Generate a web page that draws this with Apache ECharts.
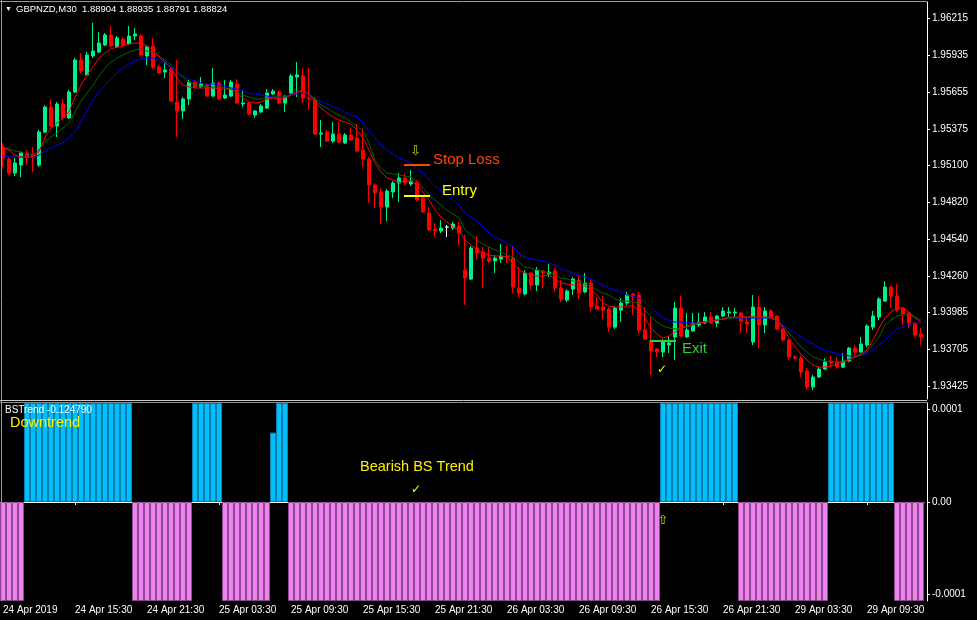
<!DOCTYPE html>
<html><head><meta charset="utf-8">
<script src="https://cdn.jsdelivr.net/npm/echarts@6/dist/echarts.min.js"></script>
<style>html,body{margin:0;padding:0;background:#000;overflow:hidden}#c{width:977px;height:620px}</style>
</head><body><div id="c"></div>
<script>
// ---------------- DATA ----------------
const openP=[1.95237,1.95146,1.95040,1.95100,1.95191,1.95184,1.95100,1.95350,1.95540,1.95396,
1.95563,1.95457,1.95654,1.95896,1.95783,1.95927,1.95957,1.96010,1.96086,1.95995,
1.96055,1.96018,1.96078,1.96078,1.95927,1.96002,1.95843,1.95805,1.95828,1.95578,
1.95510,1.95601,1.95729,1.95692,1.95707,1.95623,1.95722,1.95608,1.95623,1.95714,
1.95563,1.95570,1.95479,1.95502,1.95532,1.95639,1.95654,1.95570,1.95646,1.95767,
1.95775,1.95608,1.95601,1.95335,1.95350,1.95282,1.95335,1.95267,1.95328,1.95305,
1.95214,1.95146,1.94949,1.94896,1.94782,1.94896,1.94964,1.95002,1.94956,1.94971,
1.94850,1.94737,1.94615,1.94600,1.94630,1.94623,1.94638,1.94304,1.94236,1.94471,
1.94441,1.94395,1.94373,1.94388,1.94411,1.94395,1.94168,1.94123,1.94282,1.94191,
1.94297,1.94274,1.94297,1.94168,1.94077,1.94160,1.94229,1.94138,1.94206,1.94032,
1.94024,1.94009,1.93872,1.94001,1.94054,1.94123,1.94115,1.93850,1.93766,1.93706,
1.93683,1.93736,1.93797,1.94016,1.93797,1.93842,1.93888,1.93903,1.93948,1.93903,
1.93956,1.93979,1.93979,1.93979,1.93910,1.93759,1.94024,1.93888,1.93994,1.93956,
1.93857,1.93774,1.93645,1.93637,1.93539,1.93418,1.93493,1.93554,1.93615,1.93607,
1.93569,1.93615,1.93713,1.93683,1.93736,1.93872,1.93948,1.94069,1.94176,1.94107,
1.94016,1.93979,1.93903,1.93819];
const highP=[1.95267,1.95161,1.95153,1.95206,1.95214,1.95237,1.95366,1.95555,1.95601,1.95578,
1.95601,1.95669,1.95911,1.95949,1.95957,1.96177,1.96108,1.96101,1.96154,1.96078,
1.96071,1.96154,1.96139,1.96093,1.96010,1.96063,1.95858,1.95881,1.95843,1.95896,
1.95616,1.95745,1.95745,1.95767,1.95722,1.95836,1.95737,1.95745,1.95745,1.95752,
1.95669,1.95585,1.95517,1.95563,1.95676,1.95676,1.95669,1.95631,1.95790,1.95881,
1.95836,1.95836,1.95616,1.95441,1.95366,1.95426,1.95426,1.95343,1.95388,1.95411,
1.95381,1.95161,1.94964,1.94926,1.94918,1.94979,1.95040,1.95040,1.95062,1.94987,
1.94865,1.94782,1.94661,1.94683,1.94646,1.94668,1.94668,1.94570,1.94486,1.94562,
1.94479,1.94479,1.94418,1.94502,1.94486,1.94479,1.94327,1.94304,1.94289,1.94327,
1.94304,1.94350,1.94320,1.94229,1.94160,1.94251,1.94259,1.94282,1.94236,1.94100,
1.94107,1.94024,1.94032,1.94092,1.94138,1.94130,1.94138,1.94024,1.93948,1.93713,
1.93781,1.93797,1.94062,1.94107,1.93979,1.93979,1.93979,1.93986,1.93986,1.93963,
1.94024,1.94024,1.94016,1.93986,1.93948,1.94115,1.94107,1.94024,1.94009,1.93963,
1.93865,1.93781,1.93660,1.93660,1.93562,1.93509,1.93569,1.93637,1.93653,1.93645,
1.93675,1.93721,1.93736,1.93797,1.93895,1.93994,1.94100,1.94221,1.94183,1.94198,
1.94024,1.93986,1.93910,1.93865];
const lowP=[1.95085,1.95025,1.95017,1.95009,1.95100,1.95047,1.95085,1.95343,1.95388,1.95313,
1.95441,1.95449,1.95646,1.95798,1.95775,1.95911,1.95949,1.96002,1.95995,1.95987,
1.96002,1.96010,1.96048,1.95919,1.95858,1.95828,1.95790,1.95760,1.95578,1.95313,
1.95449,1.95555,1.95684,1.95684,1.95616,1.95616,1.95593,1.95601,1.95616,1.95563,
1.95540,1.95479,1.95457,1.95495,1.95525,1.95631,1.95563,1.95502,1.95639,1.95616,
1.95570,1.95517,1.95328,1.95237,1.95275,1.95267,1.95267,1.95260,1.95282,1.95199,
1.95085,1.94812,1.94774,1.94653,1.94676,1.94850,1.94820,1.94949,1.94941,1.94827,
1.94737,1.94600,1.94555,1.94585,1.94555,1.94608,1.94494,1.94039,1.94229,1.94380,
1.94168,1.94358,1.94282,1.94358,1.94358,1.94130,1.94100,1.94115,1.94153,1.94145,
1.94168,1.94251,1.94138,1.94062,1.94062,1.94115,1.94085,1.94130,1.93994,1.94001,
1.93933,1.93834,1.93857,1.93910,1.94039,1.93963,1.93827,1.93774,1.93509,1.93645,
1.93645,1.93675,1.93622,1.93797,1.93789,1.93834,1.93872,1.93895,1.93895,1.93872,
1.93948,1.93948,1.93948,1.93827,1.93827,1.93736,1.93713,1.93827,1.93941,1.93850,
1.93759,1.93622,1.93622,1.93493,1.93395,1.93395,1.93486,1.93546,1.93569,1.93554,
1.93562,1.93607,1.93645,1.93675,1.93721,1.93850,1.93925,1.94062,1.94016,1.93986,
1.93888,1.93865,1.93797,1.93736];
const closeP=[1.95153,1.95040,1.95116,1.95191,1.95161,1.95161,1.95350,1.95540,1.95396,1.95563,
1.95457,1.95654,1.95896,1.95813,1.95934,1.95964,1.96025,1.96086,1.96002,1.96063,
1.96010,1.96078,1.96093,1.95934,1.95995,1.95843,1.95798,1.95820,1.95585,1.95510,
1.95601,1.95729,1.95692,1.95714,1.95623,1.95722,1.95601,1.95631,1.95729,1.95570,
1.95570,1.95487,1.95510,1.95548,1.95646,1.95661,1.95570,1.95623,1.95775,1.95783,
1.95608,1.95601,1.95335,1.95343,1.95282,1.95335,1.95275,1.95328,1.95290,1.95206,
1.95146,1.94949,1.94888,1.94782,1.94903,1.94964,1.95002,1.94964,1.94979,1.94835,
1.94744,1.94608,1.94600,1.94623,1.94630,1.94653,1.94585,1.94244,1.94471,1.94433,
1.94395,1.94373,1.94395,1.94411,1.94403,1.94176,1.94130,1.94282,1.94191,1.94304,
1.94282,1.94289,1.94168,1.94085,1.94145,1.94236,1.94130,1.94206,1.94024,1.94009,
1.94001,1.93872,1.94016,1.94054,1.94115,1.94100,1.93850,1.93781,1.93690,1.93683,
1.93759,1.93751,1.94016,1.93804,1.93850,1.93903,1.93910,1.93948,1.93903,1.93956,
1.93994,1.93986,1.93986,1.93918,1.93895,1.94024,1.93888,1.93994,1.93948,1.93857,
1.93774,1.93645,1.93637,1.93531,1.93418,1.93493,1.93554,1.93607,1.93600,1.93569,
1.93615,1.93713,1.93683,1.93744,1.93880,1.93956,1.94085,1.94176,1.94107,1.94001,
1.93971,1.93903,1.93812,1.93797];
const maFast=[1.95237,1.95214,1.95176,1.95161,1.95161,1.95161,1.95199,1.95313,1.95381,1.95419,
1.95457,1.95502,1.95616,1.95707,1.95783,1.95843,1.95911,1.95949,1.95980,1.95995,
1.96002,1.96018,1.96025,1.96025,1.96002,1.95972,1.95919,1.95881,1.95836,1.95760,
1.95707,1.95692,1.95684,1.95684,1.95684,1.95684,1.95676,1.95676,1.95676,1.95646,
1.95608,1.95578,1.95570,1.95578,1.95601,1.95608,1.95601,1.95608,1.95631,1.95654,
1.95669,1.95639,1.95585,1.95532,1.95495,1.95464,1.95441,1.95426,1.95411,1.95366,
1.95305,1.95214,1.95116,1.95047,1.95002,1.94987,1.94971,1.94979,1.94979,1.94949,
1.94896,1.94835,1.94759,1.94706,1.94668,1.94630,1.94608,1.94532,1.94494,1.94456,
1.94433,1.94418,1.94411,1.94411,1.94403,1.94358,1.94304,1.94282,1.94267,1.94259,
1.94259,1.94267,1.94236,1.94206,1.94198,1.94191,1.94191,1.94183,1.94153,1.94115,
1.94054,1.94032,1.94024,1.94024,1.94032,1.94032,1.94001,1.93941,1.93865,1.93819,
1.93789,1.93804,1.93834,1.93865,1.93880,1.93895,1.93903,1.93910,1.93918,1.93925,
1.93933,1.93948,1.93948,1.93948,1.93948,1.93948,1.93948,1.93948,1.93941,1.93925,
1.93865,1.93789,1.93721,1.93668,1.93622,1.93584,1.93569,1.93569,1.93577,1.93592,
1.93607,1.93622,1.93645,1.93668,1.93698,1.93774,1.93865,1.93941,1.93986,1.94016,
1.94016,1.93986,1.93941,1.93910];
const maMid=[1.95237,1.95222,1.95206,1.95199,1.95184,1.95176,1.95214,1.95275,1.95313,1.95343,
1.95381,1.95419,1.95502,1.95585,1.95646,1.95707,1.95775,1.95836,1.95881,1.95911,
1.95934,1.95957,1.95972,1.95980,1.95964,1.95957,1.95927,1.95896,1.95858,1.95805,
1.95767,1.95729,1.95714,1.95699,1.95692,1.95692,1.95692,1.95684,1.95676,1.95654,
1.95631,1.95616,1.95601,1.95601,1.95608,1.95616,1.95616,1.95616,1.95631,1.95654,
1.95661,1.95639,1.95601,1.95555,1.95532,1.95502,1.95479,1.95457,1.95426,1.95396,
1.95358,1.95267,1.95138,1.95078,1.95040,1.95032,1.95025,1.95017,1.95009,1.94971,
1.94926,1.94873,1.94835,1.94797,1.94759,1.94729,1.94699,1.94608,1.94570,1.94532,
1.94502,1.94479,1.94456,1.94441,1.94418,1.94403,1.94365,1.94327,1.94320,1.94304,
1.94297,1.94282,1.94267,1.94244,1.94236,1.94221,1.94213,1.94198,1.94183,1.94153,
1.94130,1.94115,1.94085,1.94069,1.94069,1.94062,1.94054,1.94001,1.93948,1.93910,
1.93880,1.93865,1.93857,1.93865,1.93872,1.93888,1.93903,1.93910,1.93918,1.93925,
1.93933,1.93941,1.93941,1.93948,1.93948,1.93948,1.93948,1.93948,1.93941,1.93925,
1.93880,1.93827,1.93774,1.93721,1.93683,1.93645,1.93630,1.93615,1.93615,1.93607,
1.93615,1.93630,1.93645,1.93660,1.93683,1.93736,1.93797,1.93888,1.93925,1.93956,
1.93963,1.93963,1.93948,1.93925];
const maSlow=[1.95169,1.95161,1.95161,1.95161,1.95161,1.95161,1.95176,1.95206,1.95229,1.95252,
1.95267,1.95305,1.95358,1.95426,1.95517,1.95593,1.95654,1.95707,1.95752,1.95798,
1.95836,1.95866,1.95889,1.95904,1.95911,1.95911,1.95896,1.95874,1.95843,1.95805,
1.95775,1.95752,1.95737,1.95722,1.95714,1.95714,1.95707,1.95699,1.95684,1.95676,
1.95661,1.95646,1.95639,1.95631,1.95623,1.95616,1.95616,1.95623,1.95631,1.95639,
1.95646,1.95623,1.95601,1.95578,1.95563,1.95540,1.95525,1.95502,1.95479,1.95464,
1.95419,1.95358,1.95305,1.95252,1.95214,1.95184,1.95153,1.95138,1.95116,1.95078,
1.95040,1.94987,1.94941,1.94903,1.94865,1.94835,1.94797,1.94737,1.94706,1.94676,
1.94630,1.94585,1.94555,1.94532,1.94509,1.94479,1.94433,1.94403,1.94388,1.94380,
1.94373,1.94358,1.94342,1.94312,1.94297,1.94282,1.94267,1.94251,1.94236,1.94213,
1.94191,1.94168,1.94153,1.94138,1.94115,1.94107,1.94092,1.94062,1.94016,1.93979,
1.93941,1.93925,1.93910,1.93910,1.93903,1.93903,1.93903,1.93910,1.93918,1.93925,
1.93933,1.93941,1.93941,1.93941,1.93941,1.93941,1.93941,1.93941,1.93941,1.93918,
1.93888,1.93857,1.93827,1.93797,1.93766,1.93744,1.93713,1.93698,1.93683,1.93668,
1.93660,1.93653,1.93653,1.93660,1.93668,1.93698,1.93736,1.93774,1.93819,1.93857,
1.93872,1.93895,1.93903,1.93903];
const bsTrend=[
-0.000107,-0.000107,-0.000107,-0.000107,
0.000107,0.000107,0.000107,0.000107,0.000107,0.000107,0.000107,0.000107,0.000107,0.000107,
0.000107,0.000107,0.000107,0.000107,0.000107,0.000107,0.000107,0.000107,
-0.000107,-0.000107,-0.000107,-0.000107,-0.000107,-0.000107,-0.000107,-0.000107,-0.000107,-0.000107,
0.000107,0.000107,0.000107,0.000107,0.000107,
-0.000107,-0.000107,-0.000107,-0.000107,-0.000107,-0.000107,-0.000107,-0.000107,
0.000075,0.000107,0.000107,
-0.000107,-0.000107,-0.000107,-0.000107,-0.000107,-0.000107,-0.000107,-0.000107,-0.000107,-0.000107,
-0.000107,-0.000107,-0.000107,-0.000107,-0.000107,-0.000107,-0.000107,-0.000107,-0.000107,-0.000107,
-0.000107,-0.000107,-0.000107,-0.000107,-0.000107,-0.000107,-0.000107,-0.000107,-0.000107,-0.000107,
-0.000107,-0.000107,-0.000107,-0.000107,-0.000107,-0.000107,-0.000107,-0.000107,-0.000107,-0.000107,
-0.000107,-0.000107,-0.000107,-0.000107,-0.000107,-0.000107,-0.000107,-0.000107,-0.000107,-0.000107,
-0.000107,-0.000107,-0.000107,-0.000107,-0.000107,-0.000107,-0.000107,-0.000107,-0.000107,-0.000107,
-0.000107,-0.000107,
0.000107,0.000107,0.000107,0.000107,0.000107,0.000107,0.000107,0.000107,0.000107,0.000107,
0.000107,0.000107,0.000107,
-0.000107,-0.000107,-0.000107,-0.000107,-0.000107,-0.000107,-0.000107,-0.000107,-0.000107,-0.000107,
-0.000107,-0.000107,-0.000107,-0.000107,-0.000107,
0.000107,0.000107,0.000107,0.000107,0.000107,0.000107,0.000107,0.000107,0.000107,0.000107,0.000107,
-0.000107,-0.000107,-0.000107,-0.000107,-0.000107];
const priceTicks=[1.96215,1.95935,1.95655,1.95375,1.95100,1.94820,1.94540,1.94260,1.93985,1.93705,1.93425];
const bsTicks=[0.0001,0,-0.0001];
const timeTickLabels=['24 Apr 2019','24 Apr 15:30','24 Apr 21:30','25 Apr 03:30','25 Apr 09:30','25 Apr 15:30',
 '25 Apr 21:30','26 Apr 03:30','26 Apr 09:30','26 Apr 15:30','26 Apr 21:30','29 Apr 03:30','29 Apr 09:30'];
const tickEvery=12;
const slPrice=1.95100, entryPrice=1.94865, exitPrice=1.93766;
const priceMin=1.93327, priceMax=1.96336, bsMax=0.000107;

// categories: 30-minute bars, weekend skipped
const months=['Jan','Feb','Mar','Apr','May','Jun','Jul','Aug','Sep','Oct','Nov','Dec'];
const categories=[]; let t=Date.UTC(2019,3,24,9,30);
while(categories.length<openP.length){const d=new Date(t);const wd=d.getUTCDay();
 if(wd!==0&&wd!==6){categories.push(d.getUTCDate()+' '+months[d.getUTCMonth()]+' '+String(d.getUTCHours()).padStart(2,'0')+':'+String(d.getUTCMinutes()).padStart(2,'0'));}
 t+=1800000;}

const FONT='"Liberation Sans", Arial, sans-serif';
const chart=echarts.init(document.getElementById('c'),null,{renderer:'canvas'});
const candles=openP.map((o,i)=>[o,closeP[i],lowP[i],highP[i]]);
const option={
 backgroundColor:'#000000', animation:false,
 grid:[{left:0,top:2,width:924,height:397},{left:0,top:403,width:924,height:198}],
 xAxis:[
  {type:'category',gridIndex:0,data:categories,boundaryGap:true,axisLine:{show:false},axisTick:{show:false},axisLabel:{show:false},splitLine:{show:false}},
  {type:'category',gridIndex:1,data:categories,boundaryGap:true,
   axisLine:{show:true,lineStyle:{color:'#ffffff',width:1}},
   axisTick:{show:true,interval:tickEvery-1,alignWithLabel:true,length:3,lineStyle:{color:'#ffffff'}},
   axisLabel:{show:true,interval:tickEvery-1,align:'left',color:'#ffffff',fontSize:10,fontFamily:FONT,margin:4,
     formatter:(v,i)=>timeTickLabels[Math.round(i/tickEvery)]||''},
   splitLine:{show:false}}
 ],
 yAxis:[
  {type:'value',gridIndex:0,position:'right',offset:3,min:priceMin,max:priceMax,
   axisLine:{show:true,lineStyle:{color:'#ffffff'}},
   axisTick:{show:true,length:3,inside:false,customValues:priceTicks,lineStyle:{color:'#ffffff'}},
   axisLabel:{show:true,customValues:priceTicks,color:'#ffffff',fontSize:10,fontFamily:FONT,margin:5,formatter:v=>v.toFixed(5)},
   splitLine:{show:false}},
  {type:'value',gridIndex:1,position:'right',offset:3,min:-bsMax,max:bsMax,
   axisLine:{show:true,lineStyle:{color:'#ffffff'}},
   axisTick:{show:true,length:3,customValues:bsTicks,lineStyle:{color:'#ffffff'}},
   axisLabel:{show:true,customValues:bsTicks,color:'#ffffff',fontSize:10,fontFamily:FONT,margin:5,
     formatter:v=>Math.abs(v)<1e-9?'0.00':v.toFixed(4)},
   splitLine:{show:false}}
 ],
 series:[
  {type:'candlestick',xAxisIndex:0,yAxisIndex:0,data:candles,barWidth:3,
   itemStyle:{color:'#00F08C',color0:'#FF0000',borderColor:'#00F08C',borderColor0:'#FF0000',borderColorDoji:'#FFFFFF',borderWidth:1},z:2},
  {type:'line',xAxisIndex:0,yAxisIndex:0,data:maSlow,symbol:'none',lineStyle:{color:'#0000FF',width:1},z:3,silent:true},
  {type:'line',xAxisIndex:0,yAxisIndex:0,data:maMid,symbol:'none',lineStyle:{color:'#006400',width:1},z:4,silent:true},
  {type:'line',xAxisIndex:0,yAxisIndex:0,data:maFast,symbol:'none',lineStyle:{color:'#FF0000',width:1},z:5,silent:true},
  {type:'bar',xAxisIndex:1,yAxisIndex:1,barCategoryGap:'0%',
   data:bsTrend.map(v=>({value:v,itemStyle:{color:v>0?'#00BFFF':'#EE82EE',borderColor:v>0?'#0A7DAA':'#8E4A8E',borderWidth:1}})),silent:true}
 ]
};
chart.setOption(option);

// ---------- annotations anchored to data ----------
function px(g,idx,v){return chart.convertToPixel({xAxisIndex:g,yAxisIndex:g},[idx,v]);}
const gr=[];
function txt(x,y,text,fill,size,align,font){gr.push({type:'text',x:x,y:y,z:100,silent:true,
  style:{text:text,fill:fill,font:size+'px '+(font||FONT),align:align||'left',verticalAlign:'middle',textAlign:align||'left',textVerticalAlign:'middle'}});}
function hline(i0,i1,v,color){const a=px(0,i0,v),b=px(0,i1,v);const y=Math.round(a[1]);
  gr.push({type:'line',z:100,silent:true,shape:{x1:a[0]-1,y1:y,x2:b[0]+1,y2:y},style:{stroke:color,lineWidth:2}});return [b[0]+1,y];}
const SYM='"DejaVu Sans", sans-serif';
// frame lines
gr.push({type:'line',z:90,silent:true,shape:{x1:1.5,y1:0,x2:1.5,y2:601},style:{stroke:'#9a9a9a',lineWidth:1}});
gr.push({type:'line',z:90,silent:true,shape:{x1:0,y1:1.5,x2:927,y2:1.5},style:{stroke:'#9a9a9a',lineWidth:1}});
gr.push({type:'line',z:90,silent:true,shape:{x1:0,y1:400.5,x2:927,y2:400.5},style:{stroke:'#c8c8c8',lineWidth:1}});
gr.push({type:'line',z:90,silent:true,shape:{x1:0,y1:402.5,x2:927,y2:402.5},style:{stroke:'#8a8a8a',lineWidth:1}});
// Stop loss / Entry / Exit
let e=hline(67,71,slPrice,'#FF4500'); txt(e[0]+3,e[1]-5.5,'Stop Loss','#FF4500',15);
e=hline(67,71,entryPrice,'#FFFF00'); txt(e[0]+12,e[1]-5,'Entry','#FFFF00',15);
e=hline(108,112,exitPrice,'#32CD32'); txt(e[0]+6,e[1]+8,'Exit','#32CD32',15);
let p=px(0,69,1.95199); txt(p[0]-1.5,p[1],'\u21E9','#D0D000',13,'center',SYM);
p=px(0,110,1.93546); txt(p[0]-1,p[1],'\u2713','#FFFF00',12,'center',SYM);
p=px(1,69,0.000013); txt(p[0]-1,p[1],'\u2713','#FFFF00',12,'center',SYM);
p=px(1,110,-0.0000205); txt(p[0],p[1],'\u21E7','#D0D000',13,'center',SYM);
// window texts
txt(5,9,'\u25BC','#ffffff',7);
txt(16,9,'GBPNZD,M30  1.88904 1.88935 1.88791 1.88824','#ffffff',9.5);
txt(5,410,'BSTrend -0.124790','#ffffff',10);
txt(10,423,'Downtrend','#FFEF00',14.5);
txt(360,467,'Bearish BS Trend','#FFEF00',14.5);
chart.setOption({graphic:gr});
</script>
</body></html>
